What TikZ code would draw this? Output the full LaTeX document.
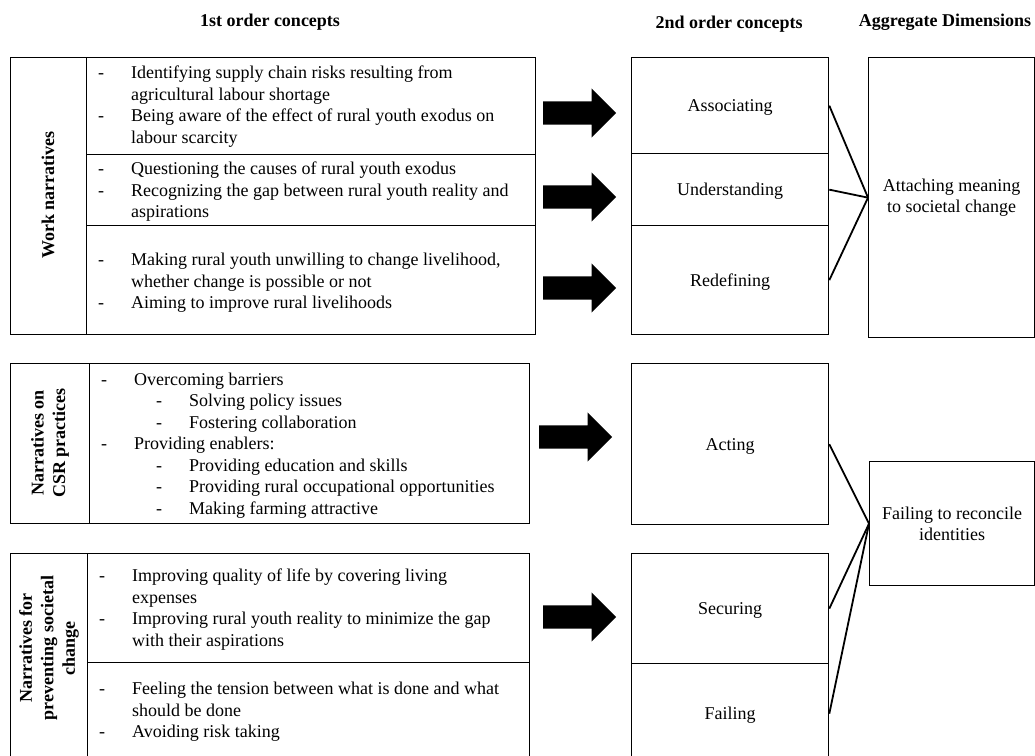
\documentclass[tikz,border=0pt]{standalone}
\usepackage{fontspec}
\setmainfont{Liberation Serif}
\usetikzlibrary{shapes.arrows}
\newcommand\dsh{\makebox[33pt][l]{-}}
\newcommand\ind{\hspace*{33pt}}
\newcommand\sdsh{\hspace*{55pt}\makebox[33pt][l]{-}}
\newcommand\dn[1]{\raisebox{-2pt}[\height][\depth]{#1}}
\begin{document}
\begin{tikzpicture}[x=1pt,y=-1pt,
  every node/.style={font=\fontsize{18}{21.5}\selectfont},
  cell/.style={draw, line width=1.3pt, anchor=north west, inner sep=0pt, align=center},
  txt/.style={anchor=west, align=left, inner sep=0pt},
  lab/.style={rotate=90, align=center, inner sep=0pt, font=\fontsize{18}{21.5}\selectfont\bfseries},
  head/.style={inner sep=0pt, font=\fontsize{18}{21.5}\selectfont\bfseries},
  blk/.style={single arrow, fill=black, draw=none, anchor=tail, minimum height=73pt,
     single arrow head extend=13pt, inner sep=0pt, text height=23pt, text depth=0pt},
  conn/.style={line width=1.8pt}]
\useasboundingbox (0,0) rectangle (1035,755);
\clip (0,0) rectangle (1035,755);

% headings
\node[head] (h1) at (270,22) {1st order concepts};
\node[head] (h2) at (729,24) {2nd order concepts};
\node[head] (h3) at (945,22) {Aggregate Dimensions};

% section 1: work narratives
\node[cell, minimum width=76pt, minimum height=277pt] (lab1) at (10,57) {};
\node[cell, minimum width=449pt, minimum height=97pt] (r11) at (86,57) {};
\node[cell, minimum width=449pt, minimum height=71pt] (r12) at (86,154) {};
\node[cell, minimum width=449pt, minimum height=109pt] (r13) at (86,225) {};
\node[lab] (l1) at (48,195) {Work narratives};
\node[txt] (t11) at (98,106.75) {\dsh Identifying supply chain risks resulting from\\ \ind agricultural labour shortage\\ \dsh Being aware of the effect of rural youth exodus on\\ \ind labour scarcity};
\node[txt] (t12) at (98,191.7) {\dsh Questioning the causes of rural youth exodus\\ \dsh Recognizing the gap between rural youth reality and\\ \ind aspirations};
\node[txt] (t13) at (98,282.7) {\dsh Making rural youth unwilling to change livelihood,\\ \ind whether change is possible or not\\ \dsh Aiming to improve rural livelihoods};

% section 2: CSR practices
\node[cell, minimum width=79pt, minimum height=160pt] (lab2) at (10,363) {};
\node[cell, minimum width=440pt, minimum height=160pt] (r2) at (89,363) {};
\node[lab] (l2) at (50,443) {Narratives on\\CSR practices};
\node[txt] (t2) at (101,445.5) {\dsh Overcoming barriers\\ \sdsh Solving policy issues\\ \sdsh Fostering collaboration\\ \dsh Providing enablers:\\ \sdsh Providing education and skills\\ \sdsh Providing rural occupational opportunities\\ \sdsh Making farming attractive};

% section 3: preventing societal change
\node[cell, minimum width=77pt, minimum height=210pt] (lab3) at (10,553) {};
\node[cell, minimum width=442pt, minimum height=109pt] (r31) at (87,553) {};
\node[cell, minimum width=442pt, minimum height=101pt] (r32) at (87,662) {};
\node[lab] (l3) at (49,648) {Narratives for\\preventing societal\\change};
\node[txt] (t31) at (99,609.5) {\dsh Improving quality of life by covering living\\ \ind expenses\\ \dsh Improving rural youth reality to minimize the gap\\ \ind with their aspirations};
\node[txt] (t32) at (99,712) {\dsh Feeling the tension between what is done and what\\ \ind should be done\\ \dsh Avoiding risk taking};

% 2nd order concepts
\node[cell, minimum width=197pt, minimum height=96pt] (c1) at (631,57) {\dn{Associating}};
\node[cell, minimum width=197pt, minimum height=72pt] (c2) at (631,153) {\dn{Understanding}};
\node[cell, minimum width=197pt, minimum height=109pt] (c3) at (631,225) {\dn{Redefining}};
\node[cell, minimum width=197pt, minimum height=161pt] (c4) at (631,363) {\dn{Acting}};
\node[cell, minimum width=197pt, minimum height=110pt] (c5) at (631,553) {\dn{Securing}};
\node[cell, minimum width=197pt, minimum height=100pt] (c6) at (631,663) {\dn{Failing}};

% aggregate dimensions
\node[cell, minimum width=166pt, minimum height=280pt] (a1) at (868,57) {Attaching meaning\\to societal change};
\node[cell, minimum width=165pt, minimum height=124pt] (a2) at (869,461) {Failing to reconcile\\identities};

% block arrows
\node[blk] (b1) at (543,113) {};
\node[blk] (b2) at (543,197) {};
\node[blk] (b3) at (543,288) {};
\node[blk] (b4) at (539,437) {};
\node[blk] (b5) at (543,617) {};

% connectors
\draw[conn] (c1.east) -- (a1.west);
\draw[conn] (c2.east) -- (a1.west);
\draw[conn] (c3.east) -- (a1.west);
\draw[conn] (c4.east) -- (a2.west);
\draw[conn] (c5.east) -- (a2.west);
\draw[conn] (c6.east) -- (a2.west);
\end{tikzpicture}
\end{document}
